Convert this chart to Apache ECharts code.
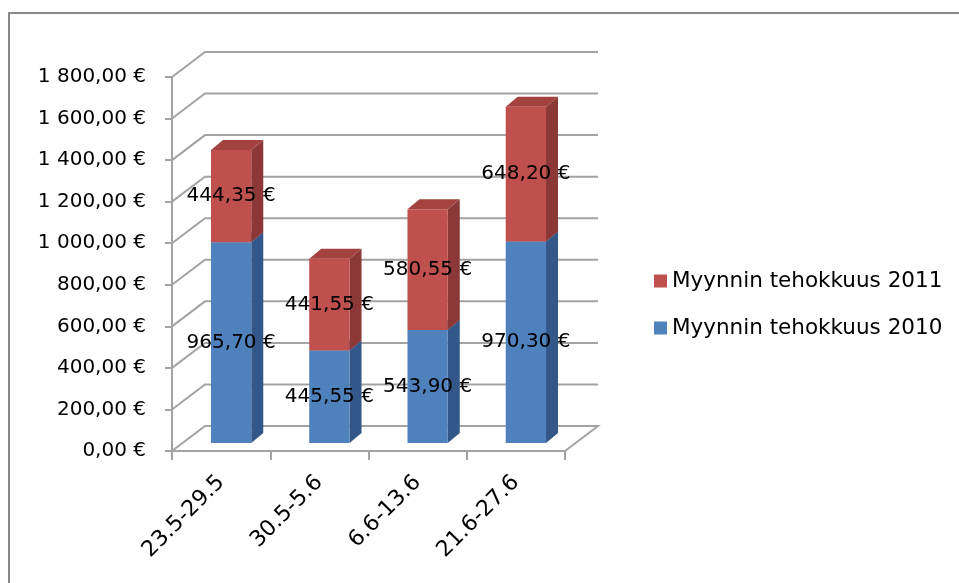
<!DOCTYPE html>
<html>
<head>
<meta charset="utf-8">
<script src="https://cdn.jsdelivr.net/npm/echarts@6/dist/echarts.min.js"></script>
<style>html,body{margin:0;padding:0;background:#fff;}#c{width:959px;height:583px;}</style>
</head>
<body>
<div id="c"></div>
<script>
var categories = ['23.5-29.5', '30.5-5.6', '6.6-13.6', '21.6-27.6'];
var sales2010 = [965.70, 445.55, 543.90, 970.30];
var sales2011 = [444.35, 441.55, 580.55, 648.20];
var seriesNames = ['Myynnin tehokkuus 2010', 'Myynnin tehokkuus 2011'];
var yTicks = [0, 200, 400, 600, 800, 1000, 1200, 1400, 1600, 1800];

var FONT = '"DejaVu Sans", sans-serif';
var WALL_DX = 33, WALL_DY = -25;
var BAR_OFF_DX = 10, BAR_OFF_DY = -8;
var BAR_D_DX = 12, BAR_D_DY = -10;
var GRID_COLOR = '#a3a3a3';

var colors = {
  blue: { front: '#4F81BD', side: '#34578A', top: '#4272A8' },
  red: { front: '#C0504D', side: '#8C3836', top: '#A4423F' }
};

function fmt(v) {
  var s = v.toFixed(2).split('.');
  var ip = s[0].replace(/\B(?=(\d{3})+(?!\d))/g, ' ');
  return ip + ',' + s[1] + ' €';
}

var blueData = sales2010.map(function (v, i) { return [i, 0, v, v]; });
var redData = sales2011.map(function (v, i) { return [i, sales2010[i], sales2010[i] + v, v]; });

function barRender(pal) {
  return function (params, api) {
    var i = api.value(0);
    var base = api.value(1), top = api.value(2), val = api.value(3);
    var c = api.coord([i, base]);
    var ct = api.coord([i, top]);
    var w = api.size([1, 0])[0] * 0.41;
    var xl = c[0] - w / 2 + BAR_OFF_DX;
    var xr = xl + w;
    var yb = c[1] + BAR_OFF_DY;
    var yt = ct[1] + BAR_OFF_DY;
    return {
      type: 'group',
      children: [
        { type: 'polygon', shape: { points: [[xr, yt], [xr + BAR_D_DX, yt + BAR_D_DY], [xr + BAR_D_DX, yb + BAR_D_DY], [xr, yb]] }, style: { fill: pal.side } },
        { type: 'polygon', shape: { points: [[xl, yt], [xl + BAR_D_DX, yt + BAR_D_DY], [xr + BAR_D_DX, yt + BAR_D_DY], [xr, yt]] }, style: { fill: pal.top } },
        { type: 'rect', shape: { x: xl, y: yt, width: w, height: yb - yt }, style: { fill: pal.front } },
        { type: 'text', z2: 100, style: { text: fmt(val), x: (xl + xr) / 2, y: (yt + yb) / 2, align: 'center', verticalAlign: 'middle', fill: '#000', font: '20px ' + FONT } }
      ]
    };
  };
}

function gridRender(params, api) {
  var v = api.value(1);
  var cs = params.coordSys;
  var y = api.coord([0, v])[1];
  var x0 = cs.x, x1 = cs.x + cs.width;
  var pts = [[x0, y], [x0 + WALL_DX, y + WALL_DY], [x1 + WALL_DX, y + WALL_DY]];
  if (v === 0) pts.push([x1, y]);
  return { type: 'polyline', shape: { points: pts }, style: { stroke: GRID_COLOR, lineWidth: 2, fill: null } };
}

var chart = echarts.init(document.getElementById('c'));
chart.setOption({
  animation: false,
  backgroundColor: '#fff',
  textStyle: { fontFamily: FONT },
  graphic: [{ type: 'rect', shape: { x: 9, y: 13, width: 1000, height: 700 }, style: { fill: null, stroke: '#8a8a8a', lineWidth: 2 }, silent: true }],
  grid: { left: 172, right: 394, top: 77, bottom: 132 },
  legend: {
    data: [seriesNames[1], seriesNames[0]],
    orient: 'vertical', left: 649, top: 265, itemGap: 25,
    icon: 'rect', itemWidth: 13, itemHeight: 13, itemTextGap: 5,
    textStyle: { fontSize: 21.5, color: '#000', fontFamily: FONT }
  },
  xAxis: {
    type: 'category', data: categories,
    axisLine: { lineStyle: { color: GRID_COLOR, width: 2 } },
    axisTick: { show: true, length: 9, lineStyle: { color: GRID_COLOR, width: 2 } },
    axisLabel: { rotate: 45, fontSize: 22, color: '#000', margin: 28, fontFamily: FONT },
    splitLine: { show: false }
  },
  yAxis: {
    type: 'value', min: 0, max: 1800, interval: 200,
    axisLine: { show: true, lineStyle: { color: GRID_COLOR, width: 2 } },
    axisTick: { show: true, length: 7, lineStyle: { color: GRID_COLOR, width: 2 } },
    axisLabel: { fontSize: 20, color: '#000', margin: 26, formatter: function (v) { return fmt(v); }, fontFamily: FONT },
    splitLine: { show: false }
  },
  series: [
    { type: 'custom', name: 'grid3d', silent: true, renderItem: gridRender, data: yTicks.map(function (v) { return [0, v]; }), z: 1 },
    { type: 'custom', name: seriesNames[0], renderItem: barRender(colors.blue), data: blueData, itemStyle: { color: colors.blue.front }, encode: { x: 0, y: [1, 2] }, z: 2 },
    { type: 'custom', name: seriesNames[1], renderItem: barRender(colors.red), data: redData, itemStyle: { color: colors.red.front }, encode: { x: 0, y: [1, 2] }, z: 3 }
  ]
});
</script>
</body>
</html>
